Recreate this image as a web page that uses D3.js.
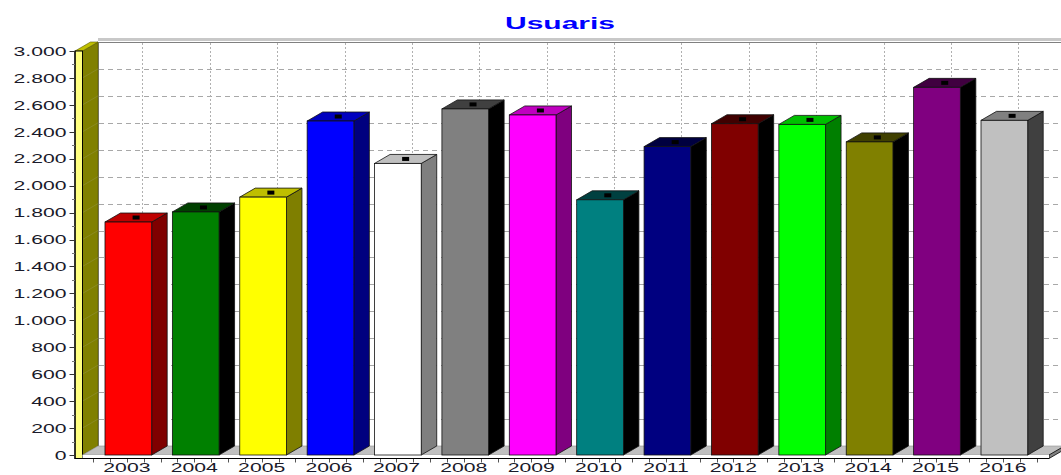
<!DOCTYPE html>
<html><head><meta charset="utf-8">
<script src="https://cdn.jsdelivr.net/npm/d3@7"></script>
<style>body{margin:0;background:#fff}svg{display:block}</style>
</head><body><svg id="c" width="1061" height="475"></svg>
<script>
const title = "Usuaris";
const years = ["2003","2004","2005","2006","2007","2008","2009","2010","2011","2012","2013","2014","2015","2016"];
const values = [1730,1805,1915,2480,2165,2570,2525,1895,2290,2460,2455,2325,2730,2485];
const barColors = ["#ff0000","#008000","#ffff00","#0000ff","#ffffff","#808080","#ff00ff","#008080","#000080","#800000","#00ff00","#808000","#800080","#c0c0c0"];
const yTicks = [0,200,400,600,800,1000,1200,1400,1600,1800,2000,2200,2400,2600,2800,3000];

const svg = d3.select("#c");
const W = 1061;
const dx = 15.5, dy = 9;
const y = d3.scaleLinear().domain([0,3000]).range([455,51]);
const x = d3.scaleBand().domain(years).range([93.2,1036.6]);
const step = x.step();
const barOff = step*0.175, barW = step*0.693;
const fmt = d3.formatLocale({decimal:",",thousands:".",grouping:[3],currency:["","€"]}).format(",d");
const shade = (c,k) => { const r = d3.rgb(c); return d3.rgb(Math.max(0,r.r-k),Math.max(0,r.g-k),Math.max(0,r.b-k)).formatHex(); };
const SX = 1.63;

// title
svg.append("text").attr("x",560).attr("y",29.3).attr("text-anchor","middle")
  .attr("font-family","Liberation Sans, Arial, sans-serif").attr("font-weight","bold")
  .attr("font-size",16).attr("fill","#0000ff")
  .attr("textLength",110).attr("lengthAdjust","spacingAndGlyphs").text(title);

// back wall top border
const yTop = y(3000)-dy;
svg.append("rect").attr("x",98).attr("y",yTop-4).attr("width",W-98).attr("height",3).attr("fill","#c8c8c8");
svg.append("line").attr("x1",98).attr("x2",W).attr("y1",yTop+0.5).attr("y2",yTop+0.5).attr("stroke","#808080");
svg.append("line").attr("x1",98.5).attr("x2",98.5).attr("y1",yTop).attr("y2",y(0)-dy).attr("stroke","#808080");

// back wall gridlines
svg.append("g").selectAll("line").data(yTicks.filter(v=>v>0&&v<3000)).join("line")
  .attr("x1",99).attr("x2",W).attr("y1",d=>Math.round(y(d)-dy)+0.5).attr("y2",d=>Math.round(y(d)-dy)+0.5)
  .attr("stroke","#a8a8a8").attr("stroke-dasharray","5,4");
svg.append("g").selectAll("line").data(years).join("line")
  .attr("x1",d=>Math.round(x(d)+step/2+dx)+0.5).attr("x2",d=>Math.round(x(d)+step/2+dx)+0.5)
  .attr("y1",yTop+1).attr("y2",y(0)-dy)
  .attr("stroke","#b0b0b0").attr("stroke-dasharray","2,2");

// left wall
const wx0 = 75, wx1 = 82.5;
svg.append("polygon").attr("points",[[wx1,y(3000)],[wx1+dx,yTop],[wx1+dx,y(0)-dy],[wx1,y(0)]].join(" "))
  .attr("fill","#808000").attr("stroke","#555500").attr("stroke-width",0.6);
svg.append("g").selectAll("line").data(yTicks.filter(v=>v>0&&v<3000)).join("line")
  .attr("x1",wx1).attr("x2",wx1+dx).attr("y1",d=>y(d)).attr("y2",d=>y(d)-dy)
  .attr("stroke","#8e8e30").attr("stroke-width",0.7);
svg.append("polygon").attr("points",[[wx0,y(3000)],[wx1,y(3000)],[wx1+dx,yTop],[wx0+dx,yTop]].join(" "))
  .attr("fill","#c0c000").attr("stroke","#555500").attr("stroke-width",0.6);
svg.append("rect").attr("x",wx0).attr("y",y(3000)).attr("width",wx1-wx0).attr("height",y(0)-y(3000)+3.5)
  .attr("fill","#ffff80").attr("stroke","#000").attr("stroke-width",1);

// floor
const fx1 = 1049;
svg.append("polygon").attr("points",[[wx1,y(0)],[fx1,y(0)],[fx1+dx,y(0)-dy],[wx1+dx,y(0)-dy]].join(" "))
  .attr("fill","#c0c0c0").attr("stroke","#909090").attr("stroke-width",0.6);
svg.append("polygon").attr("points",[[fx1,y(0)],[fx1+dx,y(0)-dy],[fx1+dx,y(0)-dy+3.5],[fx1,y(0)+3.5]].join(" "))
  .attr("fill","#808080").attr("stroke","#000").attr("stroke-width",0.8);
svg.append("rect").attr("x",wx1).attr("y",y(0)).attr("width",fx1-wx1).attr("height",3.5)
  .attr("fill","#fff").attr("stroke","none");
svg.append("line").attr("x1",wx0).attr("x2",fx1).attr("y1",y(0)+3.5).attr("y2",y(0)+3.5).attr("stroke","#000").attr("stroke-width",1.2);

// x axis ticks
const xt = d3.range(0, years.length*4+1).map(k => x.range()[0] + k*step/4);
svg.append("g").selectAll("line").data(xt).join("line")
  .attr("x1",d=>Math.round(d)+0.5).attr("x2",d=>Math.round(d)+0.5).attr("y1",y(0)+4).attr("y2",y(0)+7.5)
  .attr("stroke","#555");

// y axis
svg.append("line").attr("x1",wx0).attr("x2",wx0).attr("y1",y(3000)).attr("y2",y(0)+4).attr("stroke","#000").attr("stroke-width",1.2);
svg.append("g").selectAll("line").data(yTicks).join("line")
  .attr("x1",69.5).attr("x2",wx0).attr("y1",d=>Math.round(y(d))+0.5).attr("y2",d=>Math.round(y(d))+0.5).attr("stroke","#333");
svg.append("g").selectAll("line").data(yTicks.slice(0,-1).map(v=>v+100)).join("line")
  .attr("x1",72).attr("x2",wx0).attr("y1",d=>Math.round(y(d))+0.5).attr("y2",d=>Math.round(y(d))+0.5).attr("stroke","#777");
svg.append("g").selectAll("text").data(yTicks).join("text")
  .attr("transform",d=>`translate(66.5,${y(d)+4.7}) scale(${SX},1)`)
  .attr("text-anchor","end").attr("font-family","Liberation Sans, Arial, sans-serif")
  .attr("font-size",13).attr("fill","#1a1a2a").text(d=>fmt(d));

// x labels
svg.append("g").selectAll("text").data(years).join("text")
  .attr("transform",d=>`translate(${x(d)+step/2},472) scale(${SX},1)`)
  .attr("text-anchor","middle").attr("font-family","Liberation Sans, Arial, sans-serif")
  .attr("font-size",13).attr("fill","#1a1a2a").text(d=>d);

// bars
const bars = svg.append("g").selectAll("g").data(years.map((d,i)=>({year:d,value:values[i],color:barColors[i]}))).join("g");
bars.each(function(d){
  const g = d3.select(this);
  const x0 = x(d.year)+barOff, x1 = x0+barW, yt = y(d.value), yb = y(0);
  g.append("polygon").attr("points",[[x1,yt],[x1+dx,yt-dy],[x1+dx,yb-dy],[x1,yb]].join(" "))
    .attr("fill",shade(d.color,128)).attr("stroke","#111").attr("stroke-width",0.8);
  g.append("polygon").attr("points",[[x0,yt],[x1,yt],[x1+dx,yt-dy],[x0+dx,yt-dy]].join(" "))
    .attr("fill",shade(d.color,64)).attr("stroke","#111").attr("stroke-width",0.8);
  g.append("rect").attr("x",x0).attr("y",yt).attr("width",barW).attr("height",yb-yt)
    .attr("fill",d.color).attr("stroke","#111").attr("stroke-width",0.8);
  g.append("rect").attr("x",(x0+x1)/2+dx/2-3.5).attr("y",yt-dy/2-2).attr("width",7).attr("height",4)
    .attr("fill","#000");
});
</script></body></html>
